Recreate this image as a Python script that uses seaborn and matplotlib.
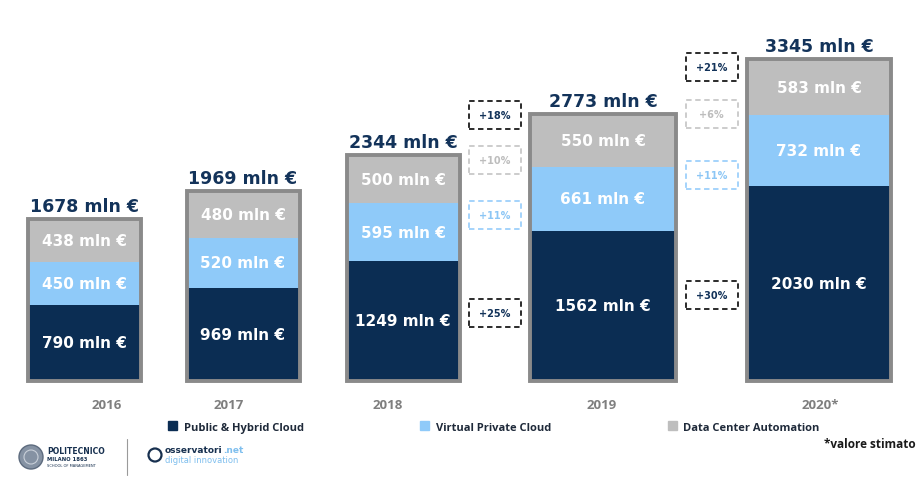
import matplotlib
matplotlib.use("Agg")
import matplotlib.pyplot as plt
import matplotlib.patches as mpatches
import seaborn as sns
import pandas as pd

# data (mln €)
years = ["2016", "2017", "2018", "2019", "2020*"]
public_hybrid = [790, 969, 1249, 1562, 2030]
virtual_private = [450, 520, 595, 661, 732]
dc_automation = [438, 480, 500, 550, 583]
totals = [1678, 1969, 2344, 2773, 3345]
# growth 2018->2019 and 2019->2020: public, virtual, dc, total
growth_18_19 = ["+25%", "+11%", "+10%", "+18%"]
growth_19_20 = ["+30%", "+11%", "+6%", "+21%"]
series = ["Public & Hybrid Cloud", "Virtual Private Cloud", "Data Center Automation"]

# layout (pixels of the 923x481 picture)
W, H = 923, 481
bar_x = [84, 243, 403, 603, 819]
bar_w = [113, 113, 113, 146, 144]
year_x = [107, 229, 388, 602, 820]
base_px = 382
top_px = 60

dark = "#0b2d53"
light = "#8fcaf9"
grey = "#bebebe"
border = "#8a8a8a"
navy_txt = "#13335a"

sns.set_theme(style="white")
plt.rcParams["font.family"] = ["DejaVu Sans"]

df = pd.DataFrame({"year": years, "x": bar_x, "public": public_hybrid,
                   "virtual": virtual_private, "dc": dc_automation, "total": totals})
df["pv"] = df["public"] + df["virtual"]
df["pvd"] = df["pv"] + df["dc"]

fig = plt.figure(figsize=(W / 100, H / 100), dpi=100)
ax = fig.add_axes([0, (H - base_px) / H, 1, base_px / H])
ytop = max(totals) * base_px / (base_px - top_px)
ypx = ytop / base_px


def fit_bars(container):
    for p, cx, w in zip(container, bar_x, bar_w):
        p.set_x(cx - w / 2)
        p.set_width(w)


# stacked by overdrawing cumulative heights
for col, c in [("pvd", grey), ("pv", light), ("public", dark)]:
    sns.barplot(data=df, x="x", y=col, native_scale=True, color=c,
                saturation=1, linewidth=0, ax=ax, errorbar=None)
    fit_bars(ax.containers[-1])

# outline around each stack
sns.barplot(data=df, x="x", y="total", native_scale=True, fill=False,
            edgecolor=border, linewidth=2.8, ax=ax, errorbar=None)
fit_bars(ax.containers[-1])
for p in ax.containers[-1]:
    p.set_clip_on(False)
    p.set_edgecolor(border)

ax.set_xlim(0, W)
ax.set_ylim(0, ytop)
sns.despine(ax=ax, left=True, bottom=True)
ax.set_yticks([])
ax.set_xlabel("")
ax.set_ylabel("")
ax.set_xticks(year_x, years)
ax.tick_params(axis="x", length=0, pad=12)
for t in ax.get_xticklabels():
    t.set_fontfamily(["Open Sans", "DejaVu Sans"])
    t.set_fontweight("bold")
    t.set_fontsize(9.5)
    t.set_color("#7f7f7f")

# labels
for i in range(len(years)):
    cx = bar_x[i]
    ax.text(cx, public_hybrid[i] / 2, f"{public_hybrid[i]} mln €", ha="center",
            va="center", color="white", fontsize=11, fontweight="bold")
    ax.text(cx, public_hybrid[i] + virtual_private[i] / 2, f"{virtual_private[i]} mln €",
            ha="center", va="center", color="white", fontsize=11, fontweight="bold")
    ax.text(cx, public_hybrid[i] + virtual_private[i] + dc_automation[i] / 2,
            f"{dc_automation[i]} mln €", ha="center", va="center", color="white",
            fontsize=11, fontweight="bold")
    ax.text(cx, totals[i] + 13 * ypx, f"{totals[i]} mln €", ha="center", va="center",
            color=navy_txt, fontsize=12.5, fontweight="bold")


# dashed growth boxes between bars
def layer_centers(i):
    p, v, d = public_hybrid[i], virtual_private[i], dc_automation[i]
    return [p / 2, p + v / 2, p + v + d / 2, totals[i] + 20 * ypx]


box_edge = ["#1a1a1a", "#9dd0fb", "#c8c8c8", "#1a1a1a"]
box_txt = [navy_txt, "#8cc6f5", "#bdbdbd", navy_txt]
for i, labels in [(2, growth_18_19), (3, growth_19_20)]:
    cx = (bar_x[i] + bar_w[i] / 2 + bar_x[i + 1] - bar_w[i + 1] / 2) / 2
    a, b = layer_centers(i), layer_centers(i + 1)
    for k, lab in enumerate(labels):
        cy = (a[k] + b[k]) / 2
        ax.add_patch(mpatches.Rectangle((cx - 26, cy - 14 * ypx), 52, 28 * ypx,
                                        fill=False, edgecolor=box_edge[k],
                                        linewidth=1.3, linestyle=(0, (3, 2))))
        ax.text(cx, cy, lab, ha="center", va="center", color=box_txt[k],
                fontsize=7, fontweight="bold")

# legend
handles = [mpatches.Patch(color=c) for c in [dark, light, grey]]
fig.legend(handles, series, loc="center left", bbox_to_anchor=(168 / W, 1 - 428 / H),
           ncol=3, frameon=False, columnspacing=10.5, handlelength=0.8,
           handleheight=0.8, handletextpad=0.6, borderpad=0, borderaxespad=0,
           prop={"family": ["Open Sans", "DejaVu Sans"], "weight": "bold", "size": 8})
for t in fig.legends[0].get_texts():
    t.set_color("#1f2a3a")

fig.text(916 / W, 1 - 444 / H, "*valore stimato", ha="right", va="center",
         fontsize=8.5, fontweight="bold", color="#1a1a1a",
         family=["Open Sans", "DejaVu Sans"])

# logos (approximate, drawn as shapes and text)
lax = fig.add_axes([0, 0, 1, 1], zorder=-1)
lax.set_xlim(0, W)
lax.set_ylim(H, 0)
lax.axis("off")
lax.add_patch(mpatches.Circle((31, 458), 12, facecolor="#8592a3", edgecolor="#5d6b7e", lw=1))
lax.add_patch(mpatches.Circle((31, 458), 7, facecolor="none", edgecolor="#c9d0d9", lw=0.8))
lax.text(47, 452, "POLITECNICO", fontsize=5.5, fontweight="bold", color="#17304f", va="center")
lax.text(47, 460, "MILANO 1863", fontsize=3.8, fontweight="bold", color="#17304f", va="center")
lax.text(47, 466, "SCHOOL OF MANAGEMENT", fontsize=2.6, color="#17304f", va="center")
lax.plot([127, 127], [440, 476], color="#9a9a9a", lw=0.8)
lax.add_patch(mpatches.Circle((155, 456), 6.5, facecolor="none", edgecolor="#17304f", lw=1.6))
osv = lax.text(165, 451, "osservatori", fontsize=6.5, fontweight="bold",
               color="#17304f", va="center")
fig.canvas.draw()
x_end = lax.transData.inverted().transform(
    (osv.get_window_extent().x1, 0))[0]
lax.text(x_end, 451, ".net", fontsize=6.5, fontweight="bold", color="#7fbfee", va="center")
lax.text(165, 461, "digital innovation", fontsize=6, color="#7fbfee", va="center")

fig.savefig("out.png", dpi=100)
